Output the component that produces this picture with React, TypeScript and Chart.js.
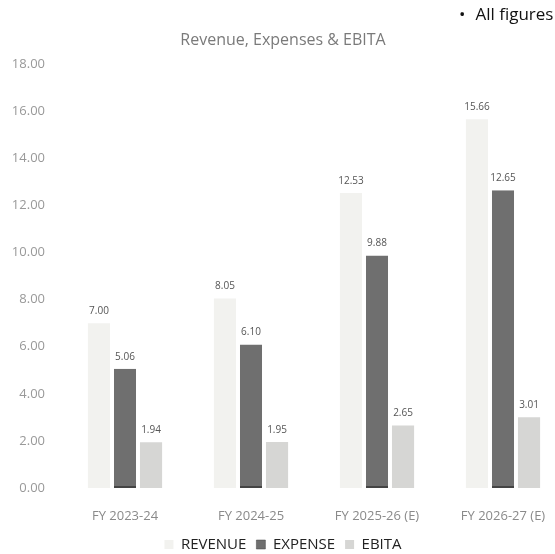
import React, { useEffect, useRef } from "react";
import { Chart, registerables } from "chart.js";

Chart.register(...registerables);

const title = "Revenue, Expenses & EBITA";
const note = "All figures";
const categories = ["FY 2023-24", "FY 2024-25", "FY 2025-26 (E)", "FY 2026-27 (E)"];
const revenue = [7.0, 8.05, 12.53, 15.66];
const expense = [5.06, 6.1, 9.88, 12.65];
const ebita = [1.94, 1.95, 2.65, 3.01];
const seriesNames = ["REVENUE", "EXPENSE", "EBITA"];

const valueLabels = {
  id: "valueLabels",
  afterDatasetsDraw(chart: any) {
    const ctx = chart.ctx;
    ctx.save();
    ctx.font = '10px "Open Sans"';
    ctx.fillStyle = "#555";
    ctx.textAlign = "center";
    ctx.textBaseline = "bottom";
    chart.data.datasets.forEach((ds: any, i: number) => {
      chart.getDatasetMeta(i).data.forEach((el: any, j: number) => {
        ctx.fillText(Number(ds.data[j]).toFixed(2), el.x, el.y - 7);
      });
    });
    ctx.restore();
  },
};

export default function App() {
  const ref = useRef<HTMLCanvasElement>(null);
  useEffect(() => {
    if (!ref.current) return;
    Chart.defaults.font.family = '"Open Sans", sans-serif';
    const chart = new Chart(ref.current, {
      type: "bar",
      data: {
        labels: categories,
        datasets: [
          {
            label: seriesNames[0],
            data: revenue,
            backgroundColor: "#f2f2ef",
            borderWidth: 0,
          },
          {
            label: seriesNames[1],
            data: expense,
            backgroundColor: "#6f6f6f",
            borderColor: "#444",
            borderWidth: { top: 0, left: 0, right: 0, bottom: 2 },
            borderSkipped: false,
          },
          {
            label: seriesNames[2],
            data: ebita,
            backgroundColor: "#d6d6d4",
            borderWidth: 0,
          },
        ],
      },
      options: {
        responsive: false,
        animation: false,
        layout: { padding: { top: 0, left: 0, right: 4, bottom: -8 } },
        datasets: {
          bar: { categoryPercentage: 0.62, barPercentage: 0.85 },
        },
        scales: {
          x: {
            grid: { display: false, drawTicks: false },
            border: { display: false },
            ticks: { color: "#8a8a8a", font: { size: 13 }, padding: 20 },
            afterFit: (s: any) => {
              s.height = 39;
            },
          },
          y: {
            min: 0,
            max: 18,
            grid: { display: false, drawTicks: false },
            border: { display: false },
            ticks: {
              stepSize: 2,
              color: "#999",
              font: { size: 13 },
              padding: 17,
              callback: (v: any) => Number(v).toFixed(2),
            },
            afterFit: (s: any) => {
              s.width = 62;
            },
          },
        },
        plugins: {
          title: {
            display: true,
            text: title,
            color: "#7a7a7a",
            font: { size: 16, weight: "normal" },
            padding: { top: 31, bottom: 14 },
          },
          legend: {
            position: "bottom",
            labels: {
              color: "#222",
              font: { size: 15 },
              boxWidth: 9,
              boxHeight: 9,
              padding: 10,
            },
          },
          tooltip: { enabled: false },
        },
      },
      plugins: [valueLabels],
    });
    return () => chart.destroy();
  }, []);
  return (
    <div
      style={{
        position: "fixed",
        left: 0,
        top: 0,
        width: 555,
        height: 554,
        overflow: "hidden",
        background: "#fff",
      }}
    >
      <canvas ref={ref} width={570} height={554} style={{ width: 570, height: 554, display: "block" }} />
      <div
        style={{
          position: "absolute",
          left: 459,
          top: 2,
          fontFamily: '"Open Sans", sans-serif',
          fontSize: 17,
          color: "#111",
          whiteSpace: "nowrap",
        }}
      >
        <span style={{ marginRight: 10 }}>•</span>
        {note}
      </div>
    </div>
  );
}
